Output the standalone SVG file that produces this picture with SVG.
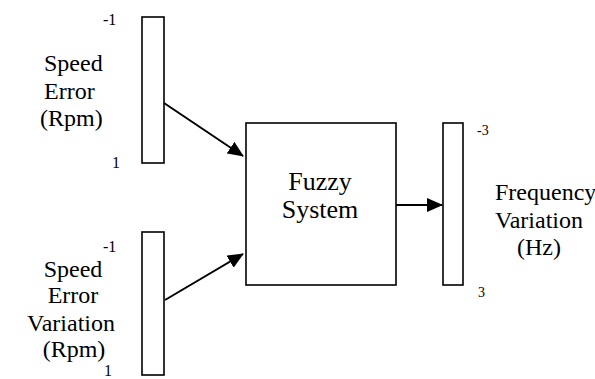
<svg xmlns="http://www.w3.org/2000/svg" width="595" height="379" viewBox="0 0 595 379">
<style>
.box{fill:#fff;stroke:#000;stroke-width:1.6}
.t{font-family:"Liberation Serif","Times New Roman",serif;font-size:24px;fill:#000}
.s{font-family:"Liberation Serif","Times New Roman",serif;font-size:16px;fill:#000}
.c{stroke:#000;stroke-width:2;fill:none}
</style>
<defs>
<marker id="ah" markerWidth="16" markerHeight="14" refX="15" refY="7" orient="auto" markerUnits="userSpaceOnUse" viewBox="0 0 16 14">
<path d="M0,0 L16,7 L0,14 z" fill="#000"/>
</marker>
</defs>
<rect width="595" height="379" fill="#fff"/>
<g id="speed-error">
<rect class="box" x="142" y="17" width="22" height="146"/>
<text class="s" x="103" y="25">-1</text>
<text class="t" x="44" y="71">Speed</text>
<text class="t" x="44" y="99">Error</text>
<text class="t" x="40" y="126">(Rpm)</text>
<text class="s" x="112" y="168">1</text>
</g>
<g id="speed-error-variation">
<rect class="box" x="142" y="232" width="22" height="143"/>
<text class="s" x="103" y="252">-1</text>
<text class="t" x="73" y="277" text-anchor="middle">Speed</text>
<text class="t" x="73" y="303" text-anchor="middle">Error</text>
<text class="t" x="71" y="331" text-anchor="middle">Variation</text>
<text class="t" x="74" y="357" text-anchor="middle">(Rpm)</text>
<text class="s" x="104" y="376">1</text>
</g>
<g id="fuzzy-system">
<rect class="box" x="246" y="123" width="150" height="162"/>
<text class="t" x="320" y="190" text-anchor="middle" font-size="26" style="font-size:26px">Fuzzy</text>
<text class="t" x="320" y="218" text-anchor="middle" font-size="26" style="font-size:26px">System</text>
</g>
<g id="frequency-variation">
<rect class="box" x="443" y="123" width="20" height="162"/>
<text class="s" x="477" y="135" style="font-size:14px">-3</text>
<text class="t" x="495" y="200">Frequency</text>
<text class="t" x="495" y="228">Variation</text>
<text class="t" x="517" y="255">(Hz)</text>
<text class="s" x="478" y="297" style="font-size:14px">3</text>
</g>
<g id="connectors">
<line class="c" x1="164" y1="103" x2="243" y2="156" marker-end="url(#ah)"/>
<line class="c" x1="165" y1="300" x2="243" y2="254" marker-end="url(#ah)"/>
<line class="c" x1="396" y1="205" x2="442" y2="205" marker-end="url(#ah)"/>
</g>
</svg>
